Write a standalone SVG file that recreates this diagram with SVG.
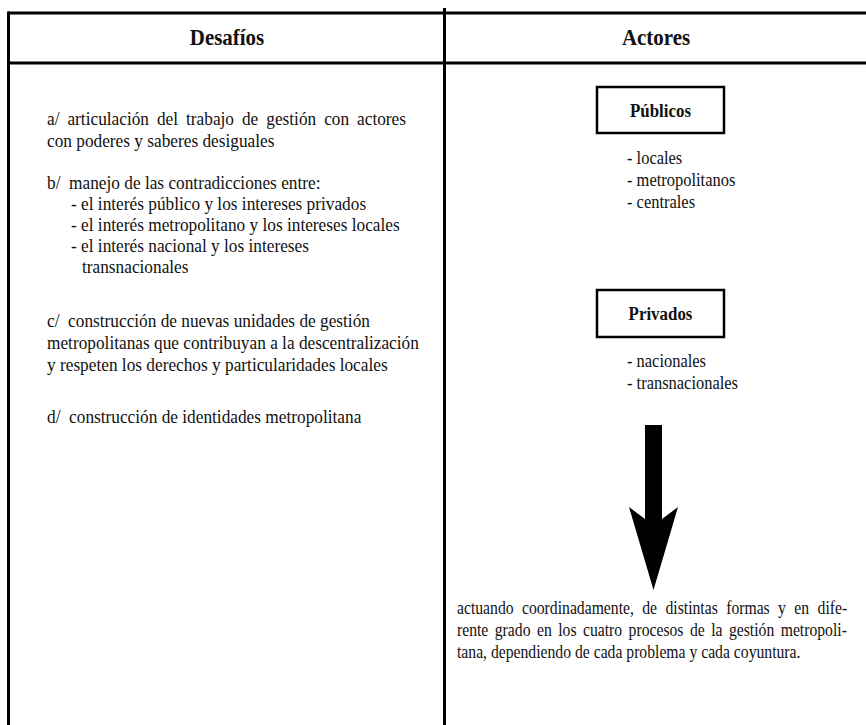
<svg xmlns="http://www.w3.org/2000/svg" width="866" height="725" viewBox="0 0 866 725">
<style>
.t{font-family:'Liberation Serif',Tinos,'Times New Roman','DejaVu Serif',serif;font-size:18.5px;fill:#111}
.h{font-family:'Liberation Serif',Tinos,'Times New Roman','DejaVu Serif',serif;font-size:23.5px;font-weight:bold;fill:#111;text-anchor:middle}
.b{font-family:'Liberation Serif',Tinos,'Times New Roman','DejaVu Serif',serif;font-size:19px;font-weight:bold;fill:#111;text-anchor:middle}
.ln{stroke:#000;stroke-width:3;fill:none}
.box{stroke:#000;stroke-width:2.5;fill:#fff}
</style>
<rect width="866" height="725" fill="#fff"/>
<g id="table">
<line class="ln" x1="8" y1="13" x2="866" y2="13"/>
<line class="ln" x1="8" y1="63" x2="866" y2="63"/>
<line class="ln" x1="8.5" y1="11.5" x2="8.5" y2="725"/>
<line class="ln" x1="444.5" y1="8" x2="444.5" y2="725"/>
</g>
<g id="header" transform="scale(0.89 1)">
<text class="h" x="255.06" y="45">Desafíos</text>
<text class="h" x="737.08" y="45">Actores</text>
</g>
<g id="desafios" transform="scale(0.935 1)">
<text class="t" x="50.27" y="125" word-spacing="3.9">a/ articulación del trabajo de gestión con actores</text>
<text class="t" x="50.27" y="147">con poderes y saberes desiguales</text>
<text class="t" x="50.27" y="189" xml:space="preserve">b/  manejo de las contradicciones entre:</text>
<text class="t" x="75.94" y="210">- el interés público y los intereses privados</text>
<text class="t" x="75.94" y="231">- el interés metropolitano y los intereses locales</text>
<text class="t" x="75.94" y="252">- el interés nacional y los intereses</text>
<text class="t" x="87.7" y="273">transnacionales</text>
<text class="t" x="50.27" y="327" xml:space="preserve">c/  construcción de nuevas unidades de gestión</text>
<text class="t" x="50.27" y="349">metropolitanas que contribuyan a la descentralización</text>
<text class="t" x="50.27" y="371">y respeten los derechos y particularidades locales</text>
<text class="t" x="50.27" y="423" xml:space="preserve">d/  construcción de identidades metropolitana</text>
</g>
<g id="publicos">
<rect class="box" x="597" y="87" width="127" height="46"/>
<g transform="scale(0.89 1)">
<text class="b" x="742.13" y="117">Públicos</text>
<text class="t" x="704.49" y="164">- locales</text>
<text class="t" x="704.49" y="186">- metropolitanos</text>
<text class="t" x="704.49" y="208">- centrales</text>
</g>
</g>
<g id="privados">
<rect class="box" x="597" y="290" width="127" height="47"/>
<g transform="scale(0.89 1)">
<text class="b" x="742.13" y="320">Privados</text>
<text class="t" x="704.49" y="367">- nacionales</text>
<text class="t" x="704.49" y="389">- transnacionales</text>
</g>
</g>
<g id="connectors">
<polygon points="645,425 662,425 662,519 678,507 653.5,590 629,507 645,519" fill="#000"/>
</g>
<g id="resultado" transform="scale(0.848 1)">
<text class="t" x="538.9" y="614" word-spacing="5.3">actuando coordinadamente, de distintas formas y en dife-</text>
<text class="t" x="538.9" y="636" word-spacing="3">rente grado en los cuatro procesos de la gestión metropoli-</text>
<text class="t" x="538.9" y="658">tana, dependiendo de cada problema y cada coyuntura.</text>
</g>
</svg>
